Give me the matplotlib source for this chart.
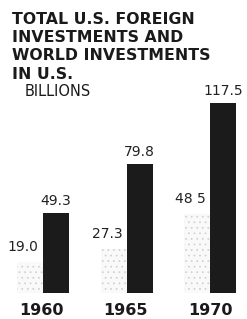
import matplotlib
matplotlib.use("Agg")
import matplotlib.pyplot as plt
import numpy as np

years = ["1960", "1965", "1970"]
us_foreign = [49.3, 79.8, 117.5]
world_in_us = [19.0, 27.3, 48.5]
foreign_labels = ["49.3", "79.8", "117.5"]
world_labels = ["19.0", "27.3", "48 5"]
title_lines = ["TOTAL U.S. FOREIGN", "INVESTMENTS AND", "WORLD INVESTMENTS", "IN U.S."]

W, H = 247, 319
fig = plt.figure(figsize=(W / 100, H / 100), dpi=100)
fig.patch.set_facecolor("white")
ax = fig.add_axes([0, 0, 1, 1])
ax.set_axis_off()

px_x = 83.5   # pixels per group
x0 = 43       # pixel of first group centre
px_y = 1.62   # pixels per billion
base = 26     # baseline pixels from bottom
ax.set_xlim(-x0 / px_x, (W - x0) / px_x)
ax.set_ylim(-base / px_y, (H - base) / px_y)

x = np.arange(len(years))
w = 26 / px_x
plt.rcParams['hatch.linewidth'] = 0.5
ax.bar(x - w / 2, world_in_us, width=w, color="#f9f9f9", edgecolor="#cfcfcf",
       hatch="...", linewidth=0)
ax.bar(x + w / 2, us_foreign, width=w, color="#1b1b1b", linewidth=0)

for i in range(len(years)):
    ax.text(x[i] + w / 2, us_foreign[i] + 3, foreign_labels[i], ha="center", va="bottom",
            fontsize=10, color="#222222")
    ax.text(x[i] - w / 2 - 0.08, world_in_us[i] + 5, world_labels[i], ha="center", va="bottom",
            fontsize=10, color="#222222")
    ax.text(x[i] - 0.02 + 0.01 * i, -11, years[i], ha="center", va="center",
            fontsize=11.5, fontweight="bold", color="#1a1a1a")

for j, line in enumerate(title_lines):
    fig.text(12 / W, 1 - (19 + 18.5 * j) / H, line, ha="left", va="center",
             fontsize=11.3, fontweight="bold", color="#1a1a1a")
fig.text(25 / W, 1 - 91 / H, "BILLIONS", ha="left", va="center",
         fontsize=10.5, color="#1a1a1a")

fig.savefig("out.png", dpi=100, facecolor="white")
